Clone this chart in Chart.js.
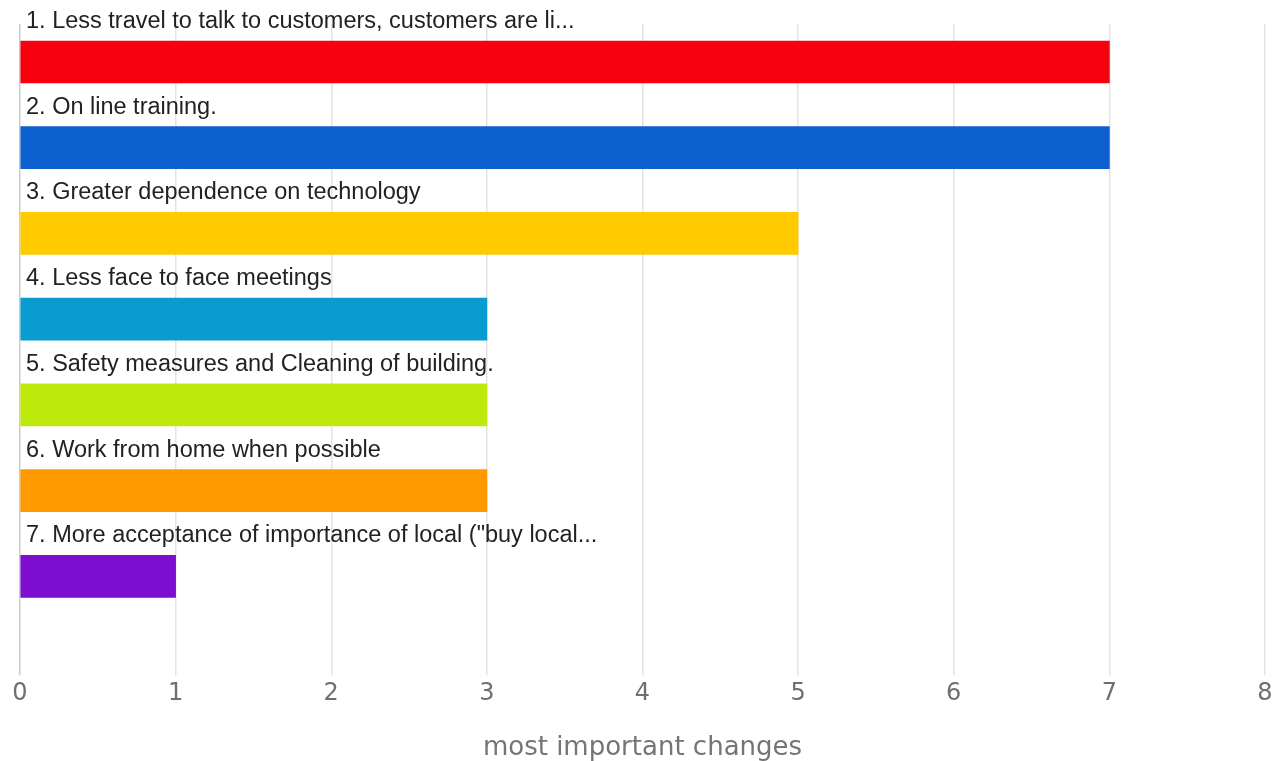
<!DOCTYPE html>
<html>
<head>
<meta charset="utf-8">
<title>most important changes</title>
<script src="https://cdn.jsdelivr.net/npm/chart.js@4/dist/chart.umd.min.js"></script>
<style>
    body { margin: 0; background: #fff; }
    canvas { display: block; }
</style>
</head>
<body>
<canvas id="changesChart" width="1281" height="761"></canvas>
<script>
const changeLabels = [
    '1. Less travel to talk to customers, customers are li...',
    '2. On line training.',
    '3. Greater dependence on technology',
    '4. Less face to face meetings',
    '5. Safety measures and Cleaning of building.',
    '6. Work from home when possible',
    '7. More acceptance of importance of local ("buy local...'
];
const changeCounts = [7, 7, 5, 3, 3, 3, 1];
const barColors = ['#f7000f', '#0e5fcf', '#ffcb00', '#0a9bd0', '#bdea0a', '#ff9900', '#7c0ed0'];
const xTicks = [0, 1, 2, 3, 4, 5, 6, 7, 8];
const axisTitle = 'most important changes';

// labels sit above each bar, left aligned to the plot edge
const barLabels = {
    id: 'barLabels',
    afterDatasetsDraw(chart) {
        const ctx = chart.ctx;
        const meta = chart.getDatasetMeta(0);
        ctx.save();
        ctx.font = '23.5px "Liberation Sans", Arial, sans-serif';
        ctx.fillStyle = '#222222';
        ctx.textAlign = 'left';
        ctx.textBaseline = 'alphabetic';
        meta.data.forEach((bar, i) => {
            const top = bar.y - bar.height / 2;
            ctx.fillText(changeLabels[i], chart.chartArea.left + 6, top - 13);
        });
        ctx.restore();
    }
};

const ctx = document.getElementById('changesChart').getContext('2d');
const changesChart = new Chart(ctx, {
    type: 'bar',
    data: {
        datasets: [{
            label: axisTitle,
            data: changeCounts.map((v, i) => ({ x: v, y: i })),
            backgroundColor: barColors,
            borderWidth: 0,
            barThickness: 42
        }]
    },
    options: {
        indexAxis: 'y',
        responsive: false,
        animation: false,
        layout: {
            padding: { left: 20, right: 16, top: 24, bottom: 0 }
        },
        scales: {
            x: {
                type: 'linear',
                min: 0,
                max: 8,
                afterBuildTicks: scale => {
                    scale.ticks = xTicks.map(v => ({ value: v }));
                },
                grid: {
                    color: c => (c.tick && c.tick.value === 0) ? '#cccccc' : '#e3e3e3',
                    lineWidth: 1.5,
                    tickLength: 19,
                    drawTicks: true
                },
                border: { display: false },
                ticks: {
                    color: '#6f6f6f',
                    padding: 4,
                    font: { family: '"DejaVu Sans", sans-serif', size: 24 }
                },
                title: {
                    display: true,
                    text: axisTitle,
                    color: '#757575',
                    padding: { top: 23, bottom: 0 },
                    font: { family: '"DejaVu Sans", sans-serif', size: 26, lineHeight: 1 }
                }
            },
            y: {
                type: 'linear',
                reverse: true,
                offset: false,
                min: -0.443,
                max: 6.932,
                display: false
            }
        },
        plugins: {
            legend: { display: false },
            tooltip: { enabled: false }
        }
    },
    plugins: [barLabels]
});
</script>
</body>
</html>
